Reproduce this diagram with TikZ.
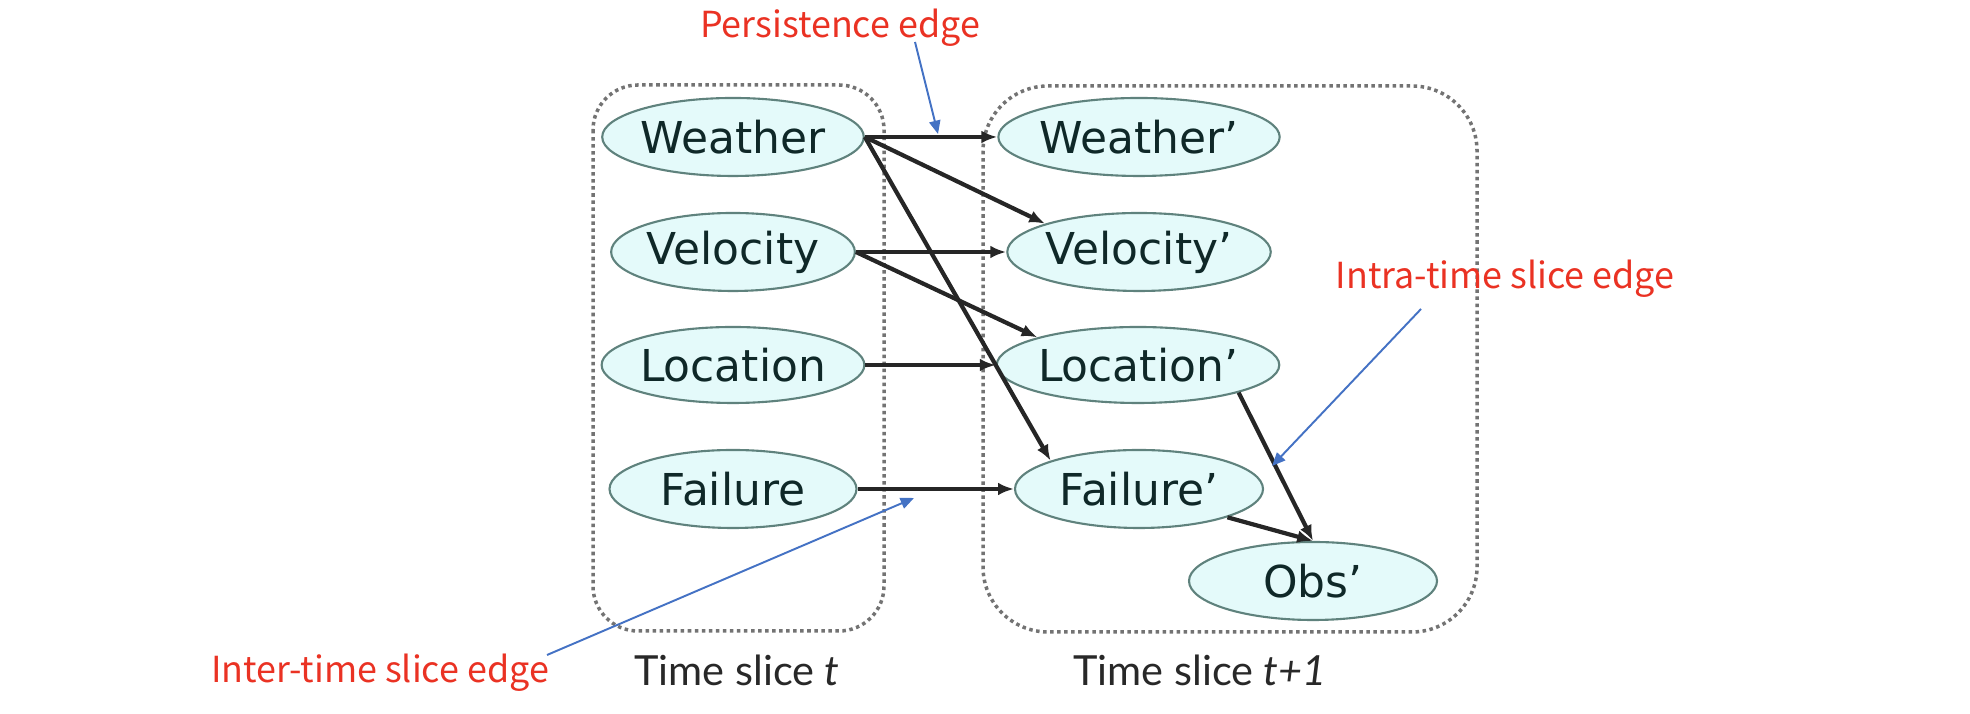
\documentclass[tikz,border=0pt]{standalone}
\usepackage{fontspec}
\usepackage{tikz}
\usetikzlibrary{shapes.geometric, arrows.meta, positioning}
\usepackage{xcolor}
\newfontfamily\varfont{DejaVu Sans}
\newfontfamily\notefont{Noto Sans CJK SC}
\newfontfamily\slicefont{Lato}
\definecolor{nodefill}{RGB}{228, 250, 250}
\definecolor{nodeborder}{RGB}{95, 130, 125}
\definecolor{nodetext}{RGB}{15, 40, 40}
\definecolor{slicegray}{RGB}{115, 115, 115}
\definecolor{noteblue}{RGB}{68, 114, 196}
\definecolor{notered}{RGB}{234, 50, 35}
\definecolor{labelgray}{RGB}{40, 40, 40}
\tikzset{
    % Random variables (ellipses)
    var node/.style={
        ellipse, draw=nodeborder, line width=0.6pt, fill=nodefill,
        minimum width=2.24cm, minimum height=0.78cm, inner sep=0pt,
        font=\varfont\fontsize{12.5}{14}\selectfont, text=nodetext
    },
    % Time slice frames
    slice box/.style={
        draw=slicegray, line width=1pt, densely dotted
    },
    % Slice captions
    slice label/.style={
        font=\slicefont\fontsize{11.8}{14}\selectfont, text=labelgray
    },
    % Network edges
    dbn edge/.style={
        -{Latex[length=4.5pt, width=3.6pt]}, line width=1.2pt, color=black!85
    },
    % Red annotations
    note/.style={
        font=\notefont\fontsize{10.2}{12}\selectfont, text=notered
    },
    % Blue pointers
    note arrow/.style={
        -{Triangle[length=3.8pt, width=3.2pt]}, line width=0.55pt, color=noteblue
    }
}
\begin{document}
\begin{tikzpicture}

    \useasboundingbox (0, 0) rectangle (19.70, 7.14);

    % ======== TIME SLICE t ========
    \draw[slice box, rounded corners=0.45cm] (5.93, 6.29) rectangle (8.84, 0.83);
    \node[slice label] (st) at (7.37, 0.44) {Time slice \textit{t}};

    \node[var node] (w) at (7.33, 5.77) {Weather};
    \node[var node] (v) at (7.33, 4.62) {Velocity};
    \node[var node, minimum width=2.17cm, minimum height=0.76cm] (l) at (7.33, 3.49) {Location};
    \node[var node, minimum width=2.47cm] (f) at (7.33, 2.25) {Failure};

    % ======== TIME SLICE t+1 ========
    \draw[slice box, rounded corners=0.65cm] (9.83, 6.28) rectangle (14.77, 0.82);
    \node[slice label] (st2) at (12.00, 0.44) {Time slice \textit{t+1}};

    \node[var node] (w2) at (11.39, 5.77) {Weather’};
    \node[var node] (v2) at (11.39, 4.62) {Velocity’};
    \node[var node, minimum width=2.19cm, minimum height=0.76cm] (l2) at (11.38, 3.49) {Location’};
    \node[var node, minimum width=2.48cm] (f2) at (11.39, 2.25) {Failure’};
    \node[var node, minimum width=2.48cm] (o2) at (13.13, 1.33) {Obs’};

    % Persistence / inter-slice edges
    \draw[dbn edge] (w.east) -- (w2.west);
    \draw[dbn edge] (w.east) -- (v2.north west);
    \draw[dbn edge] (w.east) -- (f2.north west);
    \draw[dbn edge] (v.east) -- (v2.west);
    \draw[dbn edge] (v.east) -- (l2.north west);
    \draw[dbn edge] (l.east) -- (l2.west);
    \draw[dbn edge] (f.east) -- (f2.west);

    % Intra-slice edges
    \draw[dbn edge] (l2.south east) -- (o2.north);
    \draw[dbn edge] (f2.south east) -- (o2.north);

    % ======== ANNOTATIONS ========
    \node[note] (pe) at (8.40, 6.86) {Persistence edge};
    \node[note] (ie) at (15.05, 4.35) {Intra-time slice edge};
    \node[note] (xe) at (3.80, 0.41) {Inter-time slice edge};

    \coordinate (pe from) at (9.15, 6.72);
    \coordinate (pe to) at (9.38, 5.80);
    \coordinate (ie from) at (14.21, 4.05);
    \coordinate (ie to) at (12.72, 2.48);
    \coordinate (xe from) at (5.47, 0.59);
    \coordinate (xe to) at (9.14, 2.16);

    \draw[note arrow] (pe from) -- (pe to);
    \draw[note arrow] (ie from) -- (ie to);
    \draw[note arrow] (xe from) -- (xe to);

\end{tikzpicture}
\end{document}
